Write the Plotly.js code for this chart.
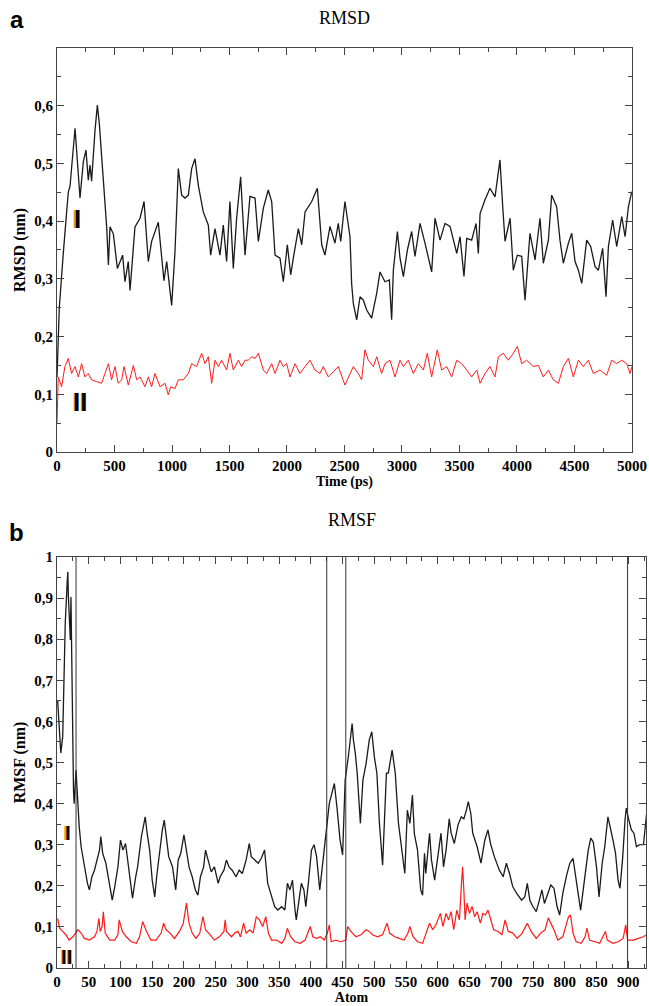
<!DOCTYPE html>
<html>
<head>
<meta charset="utf-8">
<script src="https://cdn.plot.ly/plotly-3.0.1.min.js"></script>
<style>html,body{margin:0;padding:0;background:#fff;}#chart{width:649px;height:1006px;}</style>
</head>
<body>
<div id="chart"></div>
<script>
// ---------- Panel a: RMSD ----------
const timeI = [0,20,55,98,113,157,200,229,252,272,287,301,330,351,368,403,432,447,461,490,525,571,591,620,635,678,722,757,794,823,881,930,954,997,1026,1055,1084,1113,1142,1171,1200,1229,1272,1316,1336,1374,1417,1446,1475,1504,1533,1562,1597,1635,1678,1722,1751,1794,1837,1867,1896,1939,1968,2003,2032,2055,2099,2128,2157,2215,2264,2302,2330,2374,2417,2446,2467,2504,2548,2562,2577,2606,2635,2664,2693,2736,2780,2809,2852,2890,2910,2925,2960,2983,3012,3047,3084,3113,3157,3200,3258,3287,3331,3374,3418,3476,3505,3539,3563,3606,3644,3664,3679,3722,3765,3809,3852,3876,3896,3940,3968,4003,4041,4070,4113,4157,4200,4229,4273,4302,4345,4374,4403,4447,4476,4505,4534,4563,4606,4641,4679,4708,4745,4774,4795,4832,4867,4911,4940,4969,4998];
const rmsdI = [0.13,0.25,0.345,0.45,0.46,0.561,0.44,0.503,0.523,0.471,0.497,0.469,0.556,0.601,0.569,0.477,0.39,0.324,0.39,0.378,0.318,0.341,0.295,0.33,0.28,0.39,0.405,0.434,0.33,0.365,0.398,0.297,0.33,0.254,0.347,0.491,0.445,0.44,0.445,0.491,0.508,0.462,0.416,0.393,0.341,0.387,0.341,0.393,0.33,0.434,0.318,0.405,0.477,0.341,0.443,0.44,0.365,0.422,0.454,0.434,0.341,0.336,0.295,0.359,0.307,0.336,0.387,0.359,0.416,0.434,0.457,0.359,0.341,0.391,0.362,0.396,0.365,0.434,0.373,0.292,0.257,0.229,0.269,0.263,0.246,0.232,0.275,0.312,0.295,0.298,0.229,0.315,0.382,0.336,0.304,0.35,0.382,0.339,0.396,0.362,0.312,0.405,0.367,0.396,0.391,0.344,0.373,0.304,0.37,0.367,0.396,0.344,0.413,0.437,0.457,0.442,0.506,0.425,0.365,0.405,0.315,0.341,0.339,0.263,0.379,0.333,0.405,0.327,0.367,0.445,0.425,0.367,0.327,0.362,0.379,0.33,0.315,0.292,0.367,0.356,0.321,0.315,0.353,0.269,0.356,0.402,0.356,0.408,0.373,0.425,0.451];

const timeII = [0,11,40,69,98,127,157,186,214,243,272,301,345,388,417,447,475,504,533,562,583,620,664,693,722,765,794,823,852,896,939,968,988,1026,1055,1098,1142,1171,1214,1258,1287,1316,1345,1374,1403,1432,1475,1504,1533,1577,1606,1635,1664,1693,1722,1751,1794,1823,1867,1896,1939,1968,1997,2026,2070,2113,2157,2200,2243,2287,2316,2359,2403,2446,2504,2548,2577,2620,2649,2678,2707,2751,2780,2823,2852,2896,2939,2983,3012,3055,3099,3142,3186,3220,3258,3307,3345,3389,3432,3476,3519,3563,3606,3650,3679,3722,3765,3809,3838,3881,3925,3968,4003,4041,4084,4142,4186,4229,4273,4316,4360,4403,4447,4490,4534,4577,4621,4664,4722,4780,4824,4867,4911,4954,4983,5000];
const rmsdII = [0.05,0.13,0.113,0.148,0.162,0.136,0.148,0.13,0.153,0.13,0.136,0.125,0.122,0.119,0.136,0.153,0.125,0.148,0.119,0.125,0.148,0.116,0.15,0.125,0.13,0.113,0.13,0.113,0.136,0.113,0.119,0.099,0.113,0.11,0.125,0.125,0.136,0.153,0.148,0.171,0.153,0.165,0.119,0.159,0.148,0.159,0.142,0.171,0.142,0.159,0.148,0.159,0.159,0.165,0.162,0.171,0.142,0.136,0.153,0.136,0.159,0.148,0.153,0.13,0.153,0.136,0.148,0.159,0.142,0.136,0.148,0.13,0.139,0.148,0.116,0.136,0.148,0.136,0.125,0.177,0.159,0.148,0.165,0.136,0.153,0.159,0.13,0.159,0.148,0.159,0.136,0.153,0.142,0.171,0.13,0.177,0.142,0.148,0.13,0.159,0.153,0.142,0.13,0.142,0.119,0.136,0.148,0.13,0.165,0.171,0.159,0.171,0.183,0.153,0.159,0.148,0.15,0.13,0.142,0.125,0.119,0.148,0.162,0.13,0.159,0.148,0.159,0.136,0.142,0.133,0.159,0.153,0.159,0.153,0.136,0.148];

// ---------- Panel b: RMSF ----------
const atomI = [1,4,6,9,13,16,17,18,21,22,24,26,27,30,32,34,35,38,43,48,51,55,59,62,67,69,72,77,83,87,91,96,100,104,108,112,117,119,124,127,133,136,139,142,146,150,154,157,162,166,169,172,176,182,187,191,195,200,204,208,213,218,222,226,231,234,238,243,248,254,257,263,267,271,276,282,287,292,298,303,306,312,317,322,327,332,335,339,343,348,354,359,363,367,371,375,377,382,385,389,392,396,401,405,409,414,418,422,426,429,433,437,441,446,450,454,459,465,467,470,473,478,482,487,492,496,500,504,508,513,519,522,528,533,538,543,548,552,556,560,563,568,573,576,579,581,587,590,595,600,605,609,613,618,621,626,632,637,641,645,648,652,655,662,668,674,679,683,689,697,703,708,713,718,724,732,737,741,745,750,755,760,764,768,774,778,783,788,792,797,803,808,813,817,821,825,829,833,837,841,845,850,854,859,863,868,873,876,880,884,887,891,895,897,901,905,909,913,918,924,929];
const rmsfI = [0.652,0.555,0.523,0.563,0.839,0.936,0.964,0.903,0.798,0.903,0.636,0.433,0.4,0.482,0.425,0.37,0.344,0.295,0.246,0.206,0.19,0.222,0.238,0.255,0.287,0.32,0.279,0.255,0.206,0.165,0.198,0.246,0.311,0.287,0.303,0.255,0.198,0.17,0.222,0.246,0.32,0.344,0.368,0.328,0.287,0.214,0.173,0.222,0.287,0.336,0.36,0.32,0.271,0.246,0.19,0.263,0.279,0.324,0.279,0.246,0.222,0.19,0.177,0.222,0.246,0.287,0.263,0.234,0.246,0.206,0.222,0.238,0.263,0.246,0.238,0.222,0.238,0.23,0.263,0.303,0.271,0.263,0.255,0.267,0.287,0.206,0.19,0.165,0.149,0.141,0.149,0.141,0.206,0.19,0.214,0.141,0.117,0.173,0.206,0.19,0.149,0.206,0.287,0.3,0.271,0.19,0.246,0.303,0.344,0.4,0.425,0.449,0.392,0.311,0.275,0.457,0.514,0.595,0.555,0.523,0.474,0.352,0.457,0.498,0.555,0.575,0.514,0.474,0.352,0.25,0.474,0.474,0.53,0.474,0.352,0.295,0.23,0.384,0.352,0.421,0.327,0.287,0.19,0.177,0.279,0.23,0.328,0.263,0.214,0.271,0.328,0.246,0.287,0.363,0.328,0.303,0.349,0.368,0.363,0.384,0.405,0.376,0.328,0.295,0.255,0.311,0.336,0.303,0.271,0.238,0.222,0.255,0.23,0.198,0.182,0.165,0.173,0.206,0.165,0.149,0.137,0.165,0.19,0.157,0.182,0.202,0.194,0.149,0.129,0.182,0.226,0.255,0.267,0.23,0.182,0.141,0.19,0.246,0.287,0.316,0.306,0.246,0.173,0.255,0.295,0.368,0.336,0.311,0.279,0.214,0.194,0.263,0.36,0.389,0.36,0.336,0.328,0.295,0.3,0.3,0.376];

const atomII = [1,4,9,14,19,25,33,38,43,51,59,63,66,68,71,73,76,83,91,96,98,103,109,117,125,130,135,141,148,156,164,168,172,178,185,193,199,204,208,213,219,225,230,234,241,248,256,263,265,267,275,280,285,289,294,298,304,309,314,319,324,329,333,338,346,354,359,363,368,375,383,391,396,399,403,409,415,421,426,429,432,439,447,455,458,463,471,479,487,492,497,505,513,520,524,532,539,547,553,556,561,568,576,582,587,592,597,604,608,613,617,621,625,630,634,637,639,641,643,646,650,654,658,662,667,671,675,679,683,688,695,701,706,711,718,725,733,741,747,755,762,769,774,778,783,789,797,803,806,809,813,818,826,832,835,839,847,855,864,867,876,884,892,896,899,908,916,924,929];
const rmsfII = [0.121,0.097,0.089,0.081,0.068,0.076,0.093,0.085,0.072,0.068,0.076,0.089,0.121,0.089,0.101,0.137,0.085,0.068,0.068,0.081,0.117,0.089,0.076,0.064,0.06,0.076,0.113,0.089,0.068,0.068,0.085,0.109,0.093,0.085,0.072,0.089,0.109,0.158,0.109,0.085,0.072,0.085,0.125,0.093,0.081,0.068,0.076,0.089,0.117,0.089,0.076,0.085,0.089,0.076,0.109,0.085,0.093,0.085,0.125,0.117,0.101,0.125,0.085,0.068,0.068,0.06,0.072,0.097,0.076,0.064,0.06,0.068,0.089,0.101,0.076,0.072,0.076,0.068,0.085,0.105,0.064,0.068,0.064,0.068,0.101,0.089,0.076,0.081,0.093,0.089,0.081,0.076,0.081,0.109,0.085,0.076,0.072,0.068,0.085,0.101,0.076,0.064,0.06,0.085,0.109,0.093,0.105,0.133,0.101,0.133,0.117,0.137,0.093,0.141,0.117,0.198,0.246,0.19,0.117,0.158,0.133,0.15,0.125,0.137,0.109,0.133,0.129,0.141,0.117,0.093,0.089,0.081,0.117,0.089,0.085,0.072,0.085,0.109,0.089,0.072,0.085,0.093,0.122,0.109,0.093,0.068,0.076,0.109,0.125,0.129,0.085,0.064,0.06,0.076,0.097,0.068,0.064,0.06,0.089,0.068,0.06,0.064,0.072,0.105,0.068,0.068,0.072,0.076,0.081];

const dividerAtoms = [30, 425, 455, 899];
const rmsdTickVals = [0, 0.1, 0.2, 0.3, 0.4, 0.5, 0.6];
const rmsfTickVals = [0, 0.1, 0.2, 0.3, 0.4, 0.5, 0.6, 0.7, 0.8, 0.9, 1];

const serif = 'Liberation Serif, Times New Roman, serif';
const tickFont = {family: serif, size: 15, color: '#000', weight: 'bold'};
const axisCommon = {
  showline: true, mirror: 'allticks', linecolor: '#444', linewidth: 1,
  ticks: 'inside', ticklen: 7, tickcolor: '#444', tickwidth: 1,
  showgrid: false, zeroline: false, tickfont: tickFont, fixedrange: true
};

const traces = [
  {x: timeI, y: rmsdI, xaxis: 'x', yaxis: 'y', mode: 'lines', line: {color: '#1a1a1a', width: 1.3}, hoverinfo: 'skip'},
  {x: timeII, y: rmsdII, xaxis: 'x', yaxis: 'y', mode: 'lines', line: {color: '#ff1a1a', width: 1}, hoverinfo: 'skip'},
  {x: atomI, y: rmsfI, xaxis: 'x2', yaxis: 'y2', mode: 'lines', line: {color: '#1a1a1a', width: 1.3}, hoverinfo: 'skip'},
  {x: atomII, y: rmsfII, xaxis: 'x2', yaxis: 'y2', mode: 'lines', line: {color: '#ff1a1a', width: 1.2}, hoverinfo: 'skip'}
];

const shapes = dividerAtoms.map(a => ({
  type: 'line', xref: 'x2', yref: 'y2 domain', x0: a, x1: a, y0: 0, y1: 1,
  line: {color: '#333', width: 1}
}));

function romanLabel(text, xref, yref, x, y, size) {
  return [
    {text: text, xref: xref, yref: yref, x: x, y: y, xshift: -1.5, showarrow: false,
     xanchor: 'center', yanchor: 'middle',
     font: {family: 'Liberation Sans, Arial, sans-serif', size: size, color: '#e8a020', weight: 'bold'}},
    {text: text, xref: xref, yref: yref, x: x, y: y, showarrow: false,
     xanchor: 'center', yanchor: 'middle',
     font: {family: 'Liberation Sans, Arial, sans-serif', size: size, color: '#000', weight: 'bold'}}
  ];
}

const annotations = [
  {text: 'RMSD', xref: 'x domain', yref: 'paper', x: 0.5, y: 1.0326, showarrow: false,
   xanchor: 'center', yanchor: 'middle', font: {family: serif, size: 18, color: '#000'}},
  {text: 'RMSF', xref: 'paper', yref: 'paper', x: 0.5, y: 0.487, showarrow: false,
   xanchor: 'center', yanchor: 'middle', font: {family: serif, size: 18, color: '#000'}},
  {text: 'a', xref: 'paper', yref: 'paper', x: -0.068, y: 1.031, showarrow: false,
   xanchor: 'center', yanchor: 'middle',
   font: {family: 'Liberation Sans, Arial, sans-serif', size: 24, color: '#000', weight: 'bold'}},
  {text: 'b', xref: 'paper', yref: 'paper', x: -0.068, y: 0.473, showarrow: false,
   xanchor: 'center', yanchor: 'middle',
   font: {family: 'Liberation Sans, Arial, sans-serif', size: 24, color: '#000', weight: 'bold'}}
].concat(
  romanLabel('I', 'x', 'y', 174, 0.404, 26),
  romanLabel('II', 'x', 'y', 200, 0.087, 26),
  romanLabel('I', 'x2', 'y2', 17, 0.33, 21),
  romanLabel('II', 'x2', 'y2', 16, 0.027, 21)
);

const layout = {
  width: 649, height: 1006,
  margin: {l: 57, r: 3, t: 48, b: 38},
  paper_bgcolor: '#fff', plot_bgcolor: '#fff',
  showlegend: false,
  separators: ',.',
  xaxis: Object.assign({}, axisCommon, {
    domain: [0, 0.9762], anchor: 'y', range: [0, 5000], tickmode: 'linear', tick0: 0, dtick: 500,
    minor: {tickmode: 'linear', tick0: 0, dtick: 250, ticks: 'inside', ticklen: 4, tickcolor: '#444'},
    title: {text: 'Time (ps)', font: {family: serif, size: 14, color: '#000', weight: 'bold'}, standoff: 1}
  }),
  yaxis: Object.assign({}, axisCommon, {
    domain: [0.5609, 1], anchor: 'x', range: [0, 0.7], tickmode: 'array', tickvals: rmsdTickVals,
    minor: {tickmode: 'linear', tick0: 0, dtick: 0.05, ticks: 'inside', ticklen: 4, tickcolor: '#444'},
    title: {text: 'RMSD (nm)', font: {family: serif, size: 16, color: '#000', weight: 'bold'}, standoff: 4}
  }),
  xaxis2: Object.assign({}, axisCommon, {
    domain: [0, 1], anchor: 'y2', range: [0, 928], tickmode: 'linear', tick0: 0, dtick: 50,
    minor: {tickmode: 'linear', tick0: 0, dtick: 25, ticks: 'inside', ticklen: 4, tickcolor: '#444'},
    title: {text: 'Atom', font: {family: serif, size: 14, color: '#000', weight: 'bold'}, standoff: 1}
  }),
  yaxis2: Object.assign({}, axisCommon, {
    domain: [0, 0.4467], anchor: 'x2', range: [0, 1], tickmode: 'array', tickvals: rmsfTickVals,
    minor: {tickmode: 'linear', tick0: 0, dtick: 0.05, ticks: 'inside', ticklen: 4, tickcolor: '#444'},
    title: {text: 'RMSF (nm)', font: {family: serif, size: 16, color: '#000', weight: 'bold'}, standoff: 4}
  }),
  shapes: shapes,
  annotations: annotations
};

Plotly.newPlot('chart', traces, layout, {displayModeBar: false, staticPlot: true});
</script>
</body>
</html>
